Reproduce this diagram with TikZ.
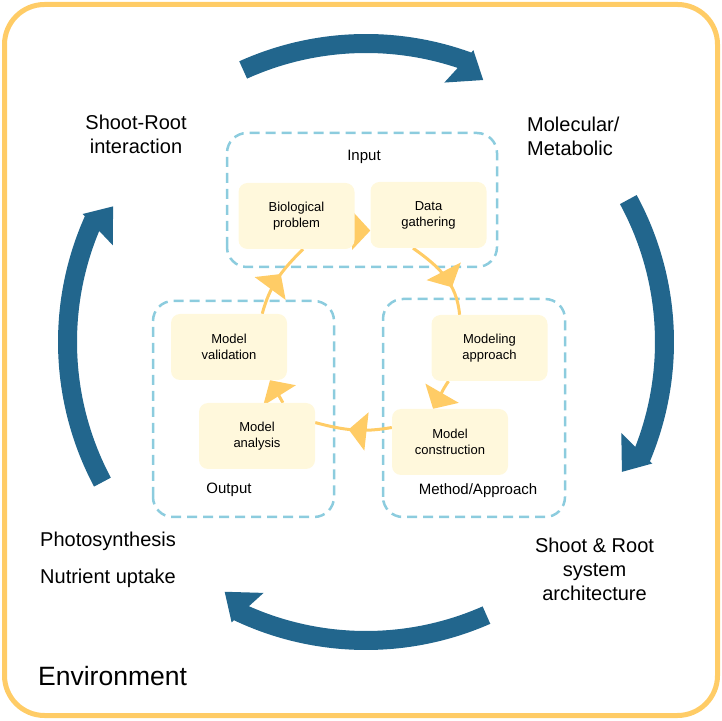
\documentclass[tikz,border=0pt]{standalone}
\usepackage{fontspec}
\setmainfont{Liberation Sans}
\usetikzlibrary{arrows.meta,decorations.markings}
\definecolor{rootblue}{RGB}{34,102,141}
\definecolor{flowgold}{RGB}{255,204,102}
\definecolor{boxcream}{RGB}{255,248,220}
\definecolor{dashblue}{RGB}{140,204,222}
\pgfdeclarelayer{back}
\pgfsetlayers{back,main}
\begin{document}
\begin{tikzpicture}[x=1pt,y=1pt,
        stage/.style={fill=boxcream, rounded corners=9pt, minimum width=116pt, minimum height=66pt, inner sep=0pt, align=center, font=\fontsize{13}{16}\selectfont},
        groupbox/.style={draw=dashblue, line width=2.5pt, dash pattern=on 10pt off 6pt, rounded corners=20pt},
        grouptitle/.style={font=\fontsize{15}{18}\selectfont},
        bigtext/.style={font=\fontsize{20}{24}\selectfont, inner sep=0pt},
        flowline/.style={color=flowgold, line width=3pt},
        endtip/.style={-{Triangle[length=18pt,width=38pt]}},
        midtip/.style={postaction={decorate,decoration={markings,mark=at position #1 with {\arrow{Triangle[length=18pt,width=38pt]}}}}}]
        \useasboundingbox (0,0) rectangle (722,720);
        \draw[flowgold, line width=5pt, rounded corners=40pt] (4.5,4.5) rectangle (717.5,715.5);

        \coordinate (c) at (366,378);
        \foreach \t/\h in {114.3/65.9, 28.5/-26.9, -66.2/-119.5, 208/151.8}
                \fill[rootblue] ([shift={(\t:308)}]c) arc[start angle=\t, end angle=\h+4.1, radius=308]
                        -- ([shift={(\h+3.9:311)}]c) -- ([shift={(\h:287)}]c) -- ([shift={(\h+7.3:271)}]c)
                        -- ([shift={(\h+5.6:289)}]c) arc[start angle=\h+5.6, end angle=\t, radius=289] -- cycle;

        \node[bigtext, align=center] (shootroot) at (136,586) {Shoot-Root\\interaction};
        \node[bigtext, align=left, anchor=west] (molecular) at (527,583.5) {Molecular/\\Metabolic};
        \node[bigtext, align=center] (architecture) at (594.5,151) {Shoot \& Root\\system\\architecture};
        \node[bigtext, anchor=west] (photo) at (40,179) {Photosynthesis};
        \node[bigtext, anchor=west] (nutrient) at (40,142) {Nutrient uptake};
        \node[font=\fontsize{26.5}{30}\selectfont, inner sep=0pt, anchor=west] (environment) at (38,44) {Environment};

        \node[stage] (bio) at (296.5,504) {Biological\\problem};
        \node[stage] (data) at (428.5,505) {Data\\gathering};
        \node[stage] (model) at (489.5,372) {Modeling\\approach};
        \node[stage] (build) at (450,278) {Model\\construction};
        \node[stage] (analysis) at (257,284) {Model\\analysis};
        \node[stage] (valid) at (229,373) {Model\\validation};

        \node[grouptitle] (input) at (364,563) {Input};
        \node[grouptitle] (output) at (229,230) {Output};
        \node[grouptitle] (method) at (478,229) {Method/Approach};

        \begin{pgfonlayer}{back}
                \draw[groupbox] (227,453) rectangle (497,587);
                \draw[groupbox] (153,203) rectangle (334,419);
                \draw[groupbox] (383,203) rectangle (565,421);
                \draw[flowline, endtip] (bio.-14) -- (data.-165);
                \draw[flowline, midtip=0.66] (data.-115) to[out=-35, in=95] (model.132);
                \draw[flowline, endtip] (model.-141) to[out=-125, in=60] (build.117);
                \draw[flowline, midtip=0.56] (build.166) to[out=190, in=-15] (analysis.13);
                \draw[flowline, endtip] (analysis.52) to[out=120, in=-58] (valid.-39);
                \draw[flowline, midtip=0.57] (valid.45) to[out=75, in=-135] (bio.-79);
        \end{pgfonlayer}
\end{tikzpicture}
\end{document}
